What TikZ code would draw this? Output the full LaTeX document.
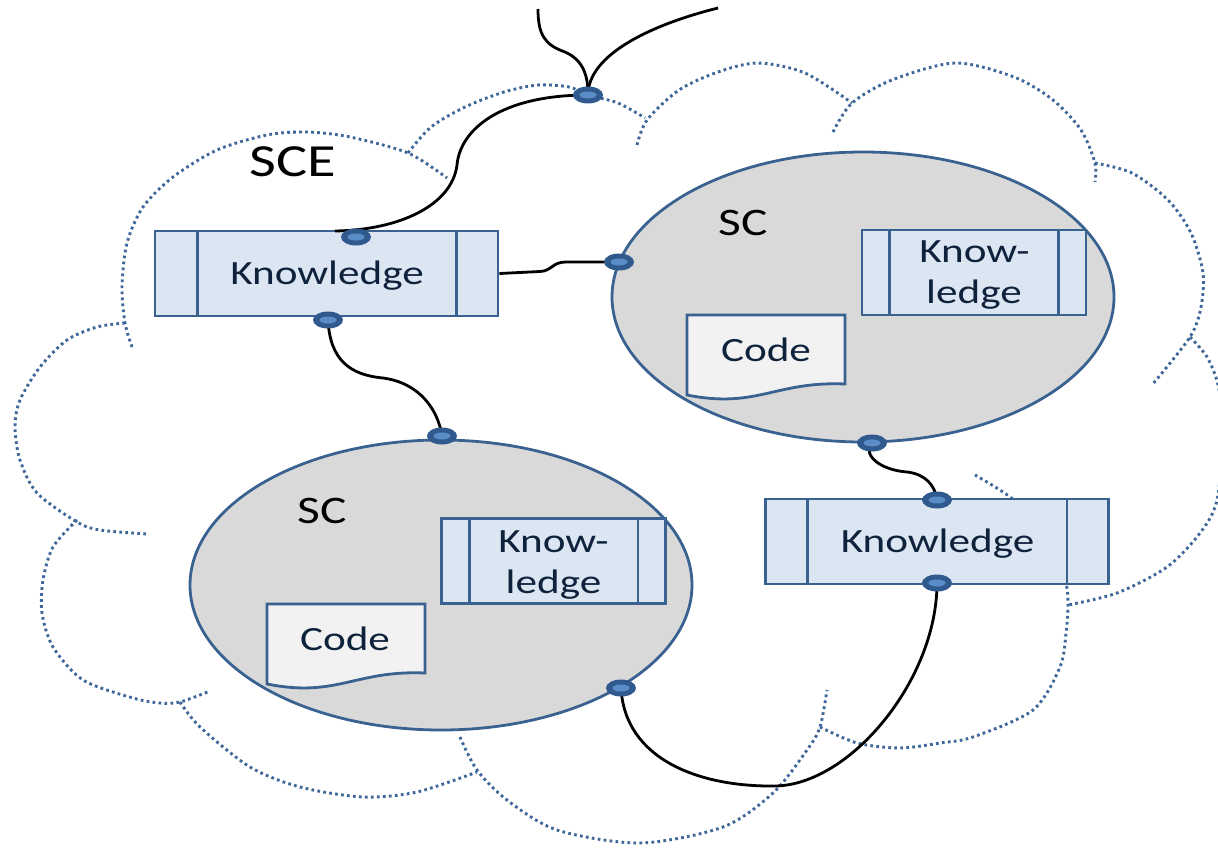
\documentclass[tikz,border=0pt]{standalone}
\usepackage{graphicx}
\usepackage{fontspec}
\setmainfont{Carlito}
\usetikzlibrary{shapes.geometric}
\definecolor{bline}{RGB}{58,98,145}
\definecolor{bfill}{RGB}{220,230,242}
\definecolor{efill}{RGB}{217,217,217}
\definecolor{dfill}{RGB}{242,242,242}
\definecolor{cloudc}{RGB}{62,102,152}
\definecolor{txt}{RGB}{15,34,60}
\definecolor{dotout}{RGB}{48,90,142}
\definecolor{dotin}{RGB}{90,140,200}
\newcommand{\wide}[1]{\scalebox{1.27}[1]{#1}}
\tikzset{
  cloudln/.style={draw=cloudc, line width=2.9pt, dash pattern=on 2.7pt off 3.3pt},
  kbox/.style={draw=bline, fill=bfill, line width=2.8pt, rectangle, inner sep=0pt, minimum height=85pt},
  divln/.style={draw=bline, line width=2.8pt},
  scell/.style={draw=bline, fill=efill, line width=2.8pt, ellipse, inner sep=0pt, minimum width=502pt, minimum height=290pt},
  cdot/.style={ellipse, inner sep=0pt, minimum width=30pt, minimum height=17pt},
  conn/.style={draw=black, line width=2.8pt},
  ktext/.style={text=txt, font=\fontsize{34}{41}\selectfont, inner sep=0pt, anchor=base},
  sctext/.style={text=black, font=\fontsize{39}{46}\selectfont, inner sep=0pt, anchor=base},
  scetext/.style={text=black, font=\fontsize{46}{54}\selectfont, inner sep=0pt, anchor=base},
  docst/.style={draw=bline, fill=dfill, line width=2.8pt},
  pics/docshape/.style={code={\path[docst] (0,0) -- (158,0) -- (158,69) .. controls (88,66) and (70,94) .. (0,80) -- cycle;}}
}
\begin{document}
\begin{tikzpicture}[x=1pt,y=-1pt]
\useasboundingbox (0,0) rectangle (1218,848);
\fill[white] (0,0) rectangle (1218,848);
% cloud
\begin{scope}
\clip (0,0) rectangle (1218,848);
\draw[cloudln] plot[smooth] coordinates {(132,347) (125,323) (122,287) (127,243) (143,207) (173,177) (217,150) (267,135) (307,132) (350,137) (408,153) (447,178)};
\draw[cloudln] plot[smooth] coordinates {(125,323) (97,327) (67,340) (40,367) (20,400) (15,427) (20,460) (37,493) (77,522) (100,530) (147,534)};
\draw[cloudln] plot[smooth] coordinates {(77,520) (53,547) (43,580) (42,613) (53,647) (83,680) (133,698) (160,703) (180,702) (210,691)};
\draw[cloudln] plot[smooth] coordinates {(180,702) (200,727) (250,767) (300,787) (363,797) (417,792) (477,772)};
\draw[cloudln] plot[smooth] coordinates {(460,737) (477,770) (507,800) (557,830) (640,843) (723,827) (773,793) (807,750) (820,727) (827,690)};
\draw[cloudln] plot[smooth] coordinates {(820,727) (857,743) (900,748) (940,743) (973,737) (1033,710) (1060,667) (1066,633) (1068,605) (1065,580) (1045,530) (1010,497) (975,475)};
\draw[cloudln] plot[smooth] coordinates {(1190,337) (1207,357) (1218,385) (1223,430) (1217,500) (1200,533) (1167,567) (1117,593) (1068,605)};
\draw[cloudln] plot[smooth] coordinates {(1095,163) (1132,173) (1168,200) (1191,233) (1203,273) (1201,307) (1190,337) (1152,385)};
\draw[cloudln] plot[smooth] coordinates {(833,132) (852,103) (892,80) (955,63) (1014,77) (1053,100) (1081,130) (1095,163) (1095,182)};
\draw[cloudln] plot[smooth] coordinates {(637,145) (647,120) (679,90) (718,72) (758,63) (805,73) (852,103)};
\draw[cloudln] plot[smooth] coordinates {(408,153) (431,127) (465,107) (504,92) (538,85) (569,87) (588,95) (618,103) (645,118)};
\end{scope}
% SC ellipses
\node[scell] (sc1) at (863,297) {};
\node[scell] (sc2) at (441,585) {};
% code documents
\pic (code1) at (687,315) {docshape};
\pic (code2) at (267,604) {docshape};
% inner knowledge boxes
\node[kbox, minimum width=224pt] (kin1) at (974,272.5) {};
\draw[divln] ([xshift=29pt]kin1.north west) -- ([xshift=29pt]kin1.south west);
\draw[divln] ([xshift=-29pt]kin1.north east) -- ([xshift=-29pt]kin1.south east);
\node[kbox, minimum width=224pt] (kin2) at (553.5,561) {};
\draw[divln] ([xshift=29pt]kin2.north west) -- ([xshift=29pt]kin2.south west);
\draw[divln] ([xshift=-29pt]kin2.north east) -- ([xshift=-29pt]kin2.south east);
% outer knowledge boxes
\node[kbox, minimum width=343pt] (kb1) at (326.5,273.5) {};
\draw[divln] ([xshift=44pt]kb1.north west) -- ([xshift=44pt]kb1.south west);
\draw[divln] ([xshift=-43pt]kb1.north east) -- ([xshift=-43pt]kb1.south east);
\node[kbox, minimum width=343pt] (kb3) at (937,541.5) {};
\draw[divln] ([xshift=43.5pt]kb3.north west) -- ([xshift=43.5pt]kb3.south west);
\draw[divln] ([xshift=-43pt]kb3.north east) -- ([xshift=-43pt]kb3.south east);
% connection points
\coordinate (ext1) at (538,9);
\coordinate (ext2) at (718,8);
\coordinate (kb1in) at (335,231);
\node[cdot] (dK) at (588,95) {};
\node[cdot] (d1t) at (356,237) {};
\node[cdot] (d1b) at (328,320) {};
\node[cdot] (d2l) at (619,262) {};
\node[cdot] (d2b) at (872,443) {};
\node[cdot] (d3t) at (937,500) {};
\node[cdot] (d3b) at (937,583) {};
\node[cdot] (d4t) at (442,436) {};
\node[cdot] (d4r) at (621,688) {};
% connectors
\draw[conn] (ext1) .. controls (538,35) and (545,45) .. (565,52) .. controls (583,60) and (588,75) .. (dK.center);
\draw[conn] (ext2) .. controls (650,25) and (588,55) .. (dK.center);
\draw[conn] (dK.center) .. controls (500,95) and (460,130) .. (457,165) .. controls (452,205) and (400,230) .. (kb1in);
\draw[conn] (kb1.east) -- (540,271.5) .. controls (552,271) and (552,262) .. (566,262) -- (d2l.center);
\draw[conn] (d1b.center) .. controls (330,360) and (350,375) .. (383,378) .. controls (420,383) and (438,410) .. (d4t.center);
\draw[conn] (d2b.center) .. controls (862,455) and (880,470) .. (907,472) .. controls (925,474) and (935,485) .. (d3t.center);
\draw[conn] (d4r.center) .. controls (625,760) and (700,787) .. (775,786) .. controls (850,785) and (937,680) .. (d3b.center);
% dots on top of connectors
\foreach \d in {dK,d1t,d1b,d2l,d2b,d3t,d3b,d4t,d4r}{
  \path[fill=dotout] (\d.center) ellipse (15pt and 8.5pt);
  \path[fill=dotin] (\d.center) ellipse (8.5pt and 3.5pt);
}
% texts
\node[scetext] (tsce) at (293,176.7) {\wide{SCE}};
\node[sctext] (tsc1) at (743,235) {\wide{SC}};
\node[sctext] (tsc2) at (322,523) {\wide{SC}};
\node[ktext] (tk1) at (327,284) {\wide{Knowledge}};
\node[ktext] (tk3) at (937.5,552) {\wide{Knowledge}};
\node[ktext] (tk2a) at (974.5,262) {\wide{Know-}};
\node[ktext] (tk2b) at (974,303) {\wide{ledge}};
\node[ktext] (tk4a) at (553.5,552) {\wide{Know-}};
\node[ktext] (tk4b) at (553.5,593) {\wide{ledge}};
\node[ktext] (tc1) at (766,361.5) {\wide{Code}};
\node[ktext] (tc2) at (345,650) {\wide{Code}};
\end{tikzpicture}
\end{document}
